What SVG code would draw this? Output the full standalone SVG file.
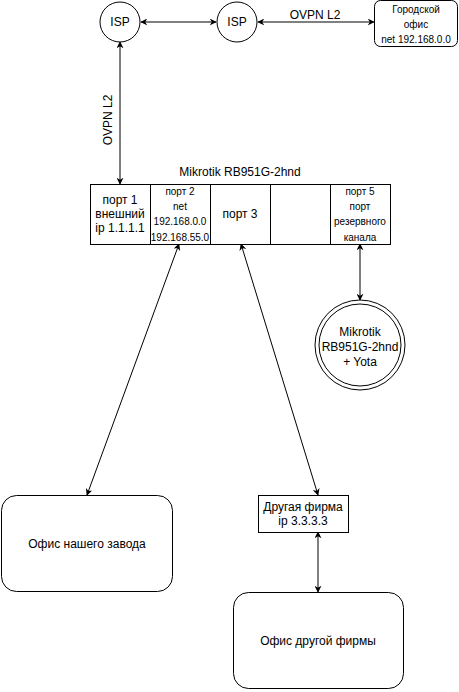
<svg xmlns="http://www.w3.org/2000/svg" width="459" height="692" viewBox="0 0 459 692">
<style>
text{font-family:"Liberation Sans",Arial,sans-serif;fill:#000;text-anchor:middle}
.s12{font-size:12px}
.s10{font-size:10px}
.sh{fill:#fff;stroke:#000;stroke-width:1}
.ln{fill:none;stroke:#000;stroke-width:1}
</style>
<defs>
<marker id="ah" viewBox="0 0 10 10" refX="9" refY="5" markerWidth="7" markerHeight="7" orient="auto-start-reverse" markerUnits="userSpaceOnUse">
<path d="M0,0 L10,5 L0,10 L3,5 Z" fill="#000"/>
</marker>
</defs>
<rect width="459" height="692" fill="#fff"/>
<g id="connectors">
<line class="ln" x1="141" y1="22" x2="216" y2="22" marker-start="url(#ah)" marker-end="url(#ah)"/>
<line class="ln" x1="258" y1="22" x2="374" y2="22" marker-start="url(#ah)" marker-end="url(#ah)"/>
<line class="ln" x1="120" y1="42" x2="120" y2="184" marker-start="url(#ah)" marker-end="url(#ah)"/>
<text class="s12" transform="translate(112,120) rotate(-90)">OVPN L2</text>
<text class="s12" x="315" y="19">OVPN L2</text>
<line class="ln" x1="179" y1="244" x2="87" y2="495" marker-start="url(#ah)" marker-end="url(#ah)"/>
<line class="ln" x1="241" y1="244" x2="318" y2="495" marker-start="url(#ah)" marker-end="url(#ah)"/>
<line class="ln" x1="360" y1="244" x2="360" y2="300" marker-start="url(#ah)" marker-end="url(#ah)"/>
<line class="ln" x1="318" y1="532" x2="318" y2="592" marker-start="url(#ah)" marker-end="url(#ah)"/>
</g>
<g id="isp1">
<circle class="sh" cx="120" cy="22" r="20"/>
<text class="s12" x="120" y="26">ISP</text>
</g>
<g id="isp2">
<circle class="sh" cx="237" cy="22" r="20"/>
<text class="s12" x="237" y="26">ISP</text>
</g>
<g id="city-office">
<rect class="sh" x="374.5" y="0.5" width="83" height="46" rx="6"/>
<text class="s10" x="416" y="13">Городской</text>
<text class="s10" x="416" y="28">офис</text>
<text class="s10" x="416" y="43">net 192.168.0.0</text>
</g>
<g id="mikrotik">
<text class="s12" x="240" y="176">Mikrotik RB951G-2hnd</text>
<rect class="sh" x="90.5" y="184.5" width="300" height="60"/>
<line class="ln" x1="150.5" y1="184.5" x2="150.5" y2="244.5"/>
<line class="ln" x1="210.5" y1="184.5" x2="210.5" y2="244.5"/>
<line class="ln" x1="270.5" y1="184.5" x2="270.5" y2="244.5"/>
<line class="ln" x1="330.5" y1="184.5" x2="330.5" y2="244.5"/>
</g>
<g id="port1">
<text class="s12" x="120" y="204">порт 1</text>
<text class="s12" x="120" y="218">внешний</text>
<text class="s12" x="120" y="232">ip 1.1.1.1</text>
</g>
<g id="port2">
<text class="s10" x="180" y="195">порт 2</text>
<text class="s10" x="180" y="210">net</text>
<text class="s10" x="180" y="225">192.168.0.0</text>
<text class="s10" x="180" y="241">192.168.55.0</text>
</g>
<g id="port3">
<text class="s12" x="240" y="218">порт 3</text>
</g>
<g id="port5">
<text class="s10" x="360" y="195">порт 5</text>
<text class="s10" x="360" y="210">порт</text>
<text class="s10" x="360" y="225">резервного</text>
<text class="s10" x="360" y="241">канала</text>
</g>
<g id="mikrotik-yota">
<circle class="sh" cx="360" cy="345" r="45"/>
<circle class="ln" cx="360" cy="345" r="41"/>
<text class="s12" x="360" y="336">Mikrotik</text>
<text class="s12" x="360" y="351">RB951G-2hnd</text>
<text class="s12" x="360" y="366">+ Yota</text>
</g>
<g id="our-office">
<rect class="sh" x="1.5" y="495.5" width="171" height="96" rx="15"/>
<text class="s12" x="87" y="548">Офис нашего завода</text>
</g>
<g id="other-firm">
<rect class="sh" x="258.5" y="495.5" width="90" height="37"/>
<text class="s12" x="303" y="511">Другая фирма</text>
<text class="s12" x="303" y="525">ip 3.3.3.3</text>
</g>
<g id="other-office">
<rect class="sh" x="233.5" y="592.5" width="170" height="96" rx="15"/>
<text class="s12" x="318" y="645">Офис другой фирмы</text>
</g>
</svg>
